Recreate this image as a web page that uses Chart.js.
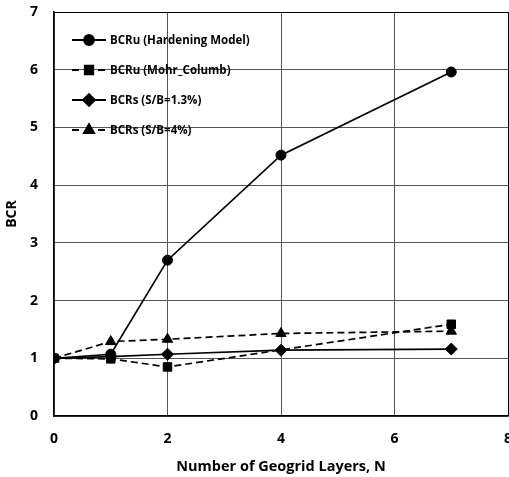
<!DOCTYPE html>
<html>
<head>
<meta charset="utf-8">
<script src="https://cdn.jsdelivr.net/npm/chart.js@4/dist/chart.umd.min.js"></script>
<style>
  html, body { margin: 0; padding: 0; background: #fff; overflow: hidden; }
  #wrap { width: 515px; height: 477px; }
</style>
</head>
<body>
<div id="wrap"><canvas id="bcr"></canvas></div>
<script>
// BCR vs nombre de couches de geogrille
const layers = [0, 1, 2, 4, 7];
const bcruHardening = [1.0, 1.07, 2.7, 4.52, 5.96];
const bcruMohr = [1.0, 0.99, 0.85, null, 1.59];
const bcrs13 = [1.0, 1.03, 1.07, 1.14, 1.16];
const bcrs4 = [1.0, 1.29, 1.33, 1.43, 1.47];
const xTicks = [0, 2, 4, 6, 8];
const yTicks = [0, 1, 2, 3, 4, 5, 6, 7];

const police = 'Open Sans';

const pts = vals => layers.map((x, i) => ({ x: x, y: vals[i] }));

const serie = (label, vals, style, radius, dash) => ({
  label: label,
  data: pts(vals),
  borderColor: '#000',
  backgroundColor: '#000',
  borderWidth: 1.7,
  borderDash: dash,
  pointStyle: style,
  pointRadius: radius,
  pointHoverRadius: radius,
  pointBorderWidth: 1,
  spanGaps: true,
  tension: 0
});

// legende dessinee a la main (ligne + marqueur)
const legendPlugin = {
  id: 'legendeMain',
  afterDraw(chart) {
    const c = chart.ctx;
    c.save();
    chart.data.datasets.forEach((ds, i) => {
      const y = 40 + i * 30;
      c.strokeStyle = '#000';
      c.lineWidth = 1.8;
      c.beginPath();
      if (ds.borderDash && ds.borderDash.length) {
        // pointille : deux petits traits de part et d'autre du marqueur
        c.moveTo(72, y); c.lineTo(79, y);
        c.moveTo(98, y); c.lineTo(105, y);
      } else {
        c.moveTo(72, y); c.lineTo(106, y);
      }
      c.stroke();
      c.fillStyle = '#000';
      Chart.helpers.drawPoint(c, {
        pointStyle: ds.pointStyle,
        radius: ds.pointRadius,
        rotation: 0,
        borderWidth: 1
      }, 89, y);
      c.fillStyle = '#000';
      c.font = 'bold 11.5px "' + police + '"';
      c.textBaseline = 'middle';
      c.fillText(ds.label, 110, y + 1);
    });
    c.restore();
  }
};

const bordOuGris = max => ctx => (ctx.tick && ctx.tick.value === max) ? '#000' : '#555';

new Chart(document.getElementById('bcr'), {
  type: 'line',
  data: {
    datasets: [
      serie('BCRu (Hardening Model)', bcruHardening, 'circle', 5, []),
      serie('BCRu (Mohr_Columb)', bcruMohr, 'rect', 6, [7, 4]),
      serie('BCRs (S/B=1.3%)', bcrs13, 'rectRot', 6, []),
      serie('BCRs (S/B=4%)', bcrs4, 'triangle', 6, [7, 4])
    ]
  },
  plugins: [legendPlugin],
  options: {
    responsive: true,
    maintainAspectRatio: false,
    animation: false,
    layout: { padding: { top: 12, right: 0, left: 0, bottom: 0 } },
    plugins: {
      legend: { display: false },
      tooltip: { enabled: false }
    },
    scales: {
      x: {
        type: 'linear',
        min: 0,
        max: 8,
        afterBuildTicks: s => { s.ticks = xTicks.map(v => ({ value: v })); },
        afterFit: s => { s.height = 61; s.paddingRight = 0; s.paddingLeft = 0; },
        border: { color: '#000', width: 1.5 },
        grid: { color: bordOuGris(8), lineWidth: 1, drawTicks: false },
        ticks: {
          color: '#000',
          padding: 15,
          font: { family: police, size: 14, weight: 'bold' }
        },
        title: {
          display: true,
          text: 'Number of Geogrid Layers, N',
          color: '#000',
          padding: { top: 4, bottom: 1 },
          font: { family: police, size: 14.5, weight: 'bold' }
        }
      },
      y: {
        min: 0,
        max: 7,
        afterBuildTicks: s => { s.ticks = yTicks.map(v => ({ value: v })); },
        afterFit: s => { s.width = 54; s.paddingTop = 0; s.paddingBottom = 0; },
        border: { color: '#000', width: 1.5 },
        grid: { color: bordOuGris(7), lineWidth: 1, drawTicks: false },
        ticks: {
          color: '#000',
          padding: 16,
          font: { family: police, size: 14, weight: 'bold' }
        },
        title: {
          display: true,
          text: 'BCR',
          color: '#000',
          padding: { top: 4, bottom: 2 },
          font: { family: police, size: 14, weight: 'bold' }
        }
      }
    }
  }
});
</script>
</body>
</html>
